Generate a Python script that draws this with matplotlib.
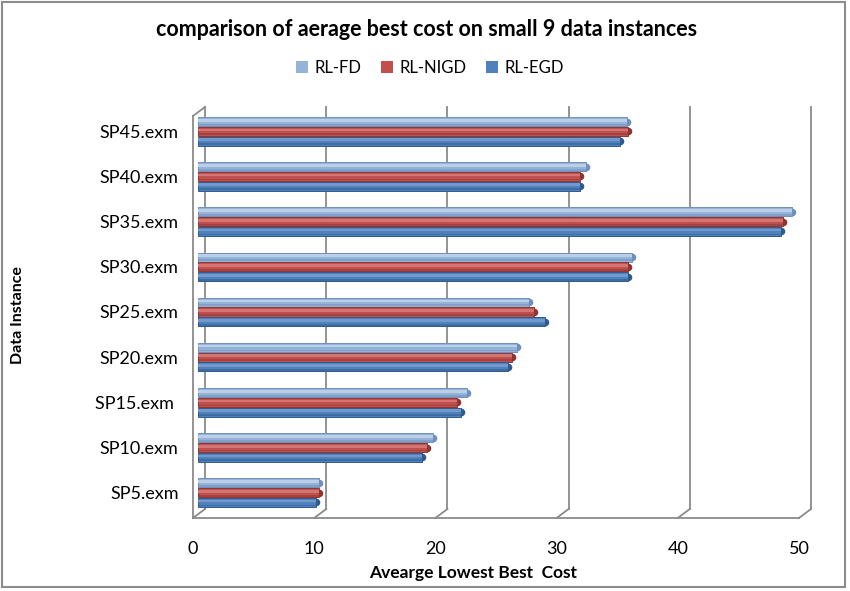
import matplotlib
matplotlib.use("Agg")
import matplotlib.pyplot as plt
from matplotlib.transforms import ScaledTranslation
from matplotlib.patches import Patch
import numpy as np

categories = ["SP5.exm", "SP10.exm", "SP15.exm ", "SP20.exm", "SP25.exm",
              "SP30.exm", "SP35.exm", "SP40.exm", "SP45.exm"]
rl_fd = [10.0, 19.4, 22.2, 26.3, 27.3, 35.8, 49.0, 32.0, 35.4]
rl_nigd = [10.0, 18.9, 21.4, 25.9, 27.7, 35.5, 48.3, 31.5, 35.5]
rl_egd = [9.7, 18.5, 21.7, 25.6, 28.6, 35.5, 48.1, 31.5, 34.8]
series_names = ["RL-FD", "RL-NIGD", "RL-EGD"]
xticks = [0, 10, 20, 30, 40, 50]

plt.rcParams['font.family'] = ['Lato', 'DejaVu Sans']

W, H = 850, 591
dpi = 100
fig = plt.figure(figsize=(W / dpi, H / dpi), dpi=dpi)
fig.patch.set_facecolor("white")

fig.add_artist(plt.Rectangle((2 / W, 4 / H), 843 / W, 585 / H, transform=fig.transFigure,
                             fill=False, edgecolor="#8c8c8c", lw=1.5))

left_px, right_px = 198, 804
top_px, bot_px = 111, 513
ax = fig.add_axes([left_px / W, 1 - bot_px / H, (right_px - left_px) / W, (bot_px - top_px) / H])
ax.set_xlim(0, 50)
ax.set_ylim(-0.45, 8.45)
for s in ax.spines.values():
    s.set_visible(False)
ax.patch.set_alpha(0)

px = 1.0 / dpi
back = ScaledTranslation(7 * px, 4 * px, fig.dpi_scale_trans)
front = ScaledTranslation(-5 * px, -5 * px, fig.dpi_scale_trans)
grid_c = "#8a8a8a"

for t in xticks:
    ax.plot([t, t], [-0.45, 8.45], color=grid_c, lw=1.3, transform=ax.transData + back,
            clip_on=False, zorder=0)
    x0, y0 = ax.transData.transform((t, -0.45))
    ax.plot([x0 + 7, x0 - 5], [y0 + 4, y0 - 5], color=grid_c, lw=1.3,
            transform=None, clip_on=False, zorder=0)
ax.plot([0, 50], [-0.45, -0.45], color=grid_c, lw=1.3, transform=ax.transData + front,
        clip_on=False)
ax.plot([0, 0], [-0.45, 8.45], color=grid_c, lw=1.3, transform=ax.transData + front,
        clip_on=False)
xt, yt = ax.transData.transform((0, 8.45))
ax.plot([xt - 5, xt + 7], [yt - 5, yt + 4], color=grid_c, lw=1.3, transform=None, clip_on=False)

y = np.arange(len(categories))
h = 0.2
off = 0.215
cols = [("#95b3d7", "#bccfe9", "#6f8fbd"),
        ("#c0504d", "#d37572", "#8e3532"),
        ("#4f81bd", "#7399cc", "#2f5a8c")]
for vals, dy, (c, hl, dk) in zip([rl_fd, rl_nigd, rl_egd], [off, 0, -off], cols):
    yy = y + dy
    ax.barh(yy, vals, height=h, color=c, edgecolor=dk, lw=0.7, zorder=3)
    ax.barh(yy + h * 0.15, vals, height=h * 0.3, color=hl, lw=0, zorder=4)
    ax.barh(yy - h * 0.34, vals, height=h * 0.2, color=dk, lw=0, alpha=0.5, zorder=4)
    ax.scatter(vals, yy, s=30, marker="o", color=dk, zorder=2.5, linewidths=0)

ax.set_yticks(y)
ax.set_yticklabels(categories, fontsize=13)
ax.tick_params(axis="y", length=0, pad=14)
ax.set_xticks(xticks)
ax.set_xticklabels([str(t) for t in xticks], fontsize=13)
ax.tick_params(axis="x", length=0, pad=20)
for lab in ax.get_xticklabels():
    lab.set_transform(lab.get_transform() + ScaledTranslation(-5 * px, 0, fig.dpi_scale_trans))

fig.text(427 / W, 1 - 30 / H, "comparison of aerage best cost on small 9 data instances",
         ha="center", va="center", fontsize=15.5, fontweight="bold")
fig.text(473 / W, 1 - 573 / H, "Avearge Lowest Best  Cost", ha="center", va="center",
         fontsize=12.5, fontweight="bold")
fig.text(18 / W, 1 - 315 / H, "Data Instance", ha="center", va="center", rotation=90,
         fontsize=11.5, fontweight="bold")

handles = [Patch(facecolor=cols[i][0], edgecolor="none") for i in range(3)]
fig.legend(handles, series_names, loc="center", bbox_to_anchor=(430 / W, 1 - 68 / H), ncol=3,
           frameon=False, fontsize=12, handlelength=0.7, handleheight=0.7,
           handletextpad=0.4, columnspacing=1.2)

fig.savefig("out.png", dpi=dpi)
